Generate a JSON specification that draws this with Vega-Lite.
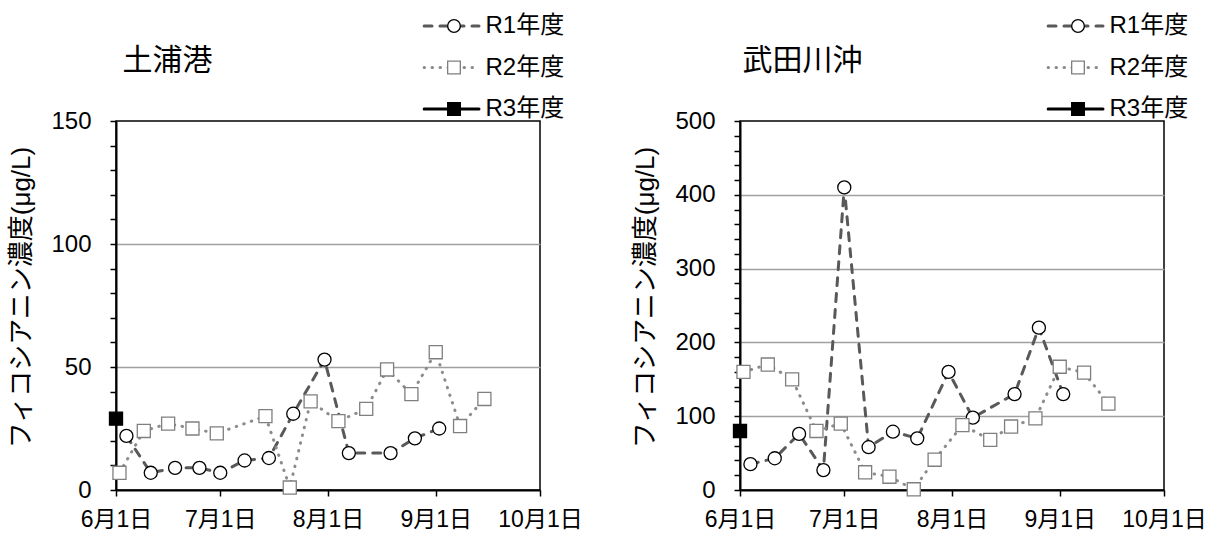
{
  "$schema": "https://vega.github.io/schema/vega-lite/v6.json",
  "background": "white",
  "padding": {"left": 8, "top": 10, "right": 0, "bottom": 0},
  "datasets": {
    "tsuchiura": [
      {"年度": "R1年度", "date": "2021-06-04", "value": 22},
      {"年度": "R1年度", "date": "2021-06-11", "value": 7},
      {"年度": "R1年度", "date": "2021-06-18", "value": 9},
      {"年度": "R1年度", "date": "2021-06-25", "value": 9},
      {"年度": "R1年度", "date": "2021-07-01", "value": 7},
      {"年度": "R1年度", "date": "2021-07-08", "value": 12},
      {"年度": "R1年度", "date": "2021-07-15", "value": 13},
      {"年度": "R1年度", "date": "2021-07-22", "value": 31},
      {"年度": "R1年度", "date": "2021-07-31", "value": 53},
      {"年度": "R1年度", "date": "2021-08-07", "value": 15},
      {"年度": "R1年度", "date": "2021-08-19", "value": 15},
      {"年度": "R1年度", "date": "2021-08-26", "value": 21},
      {"年度": "R1年度", "date": "2021-09-02", "value": 25},
      {"年度": "R2年度", "date": "2021-06-02", "value": 7},
      {"年度": "R2年度", "date": "2021-06-09", "value": 24},
      {"年度": "R2年度", "date": "2021-06-16", "value": 27},
      {"年度": "R2年度", "date": "2021-06-23", "value": 25},
      {"年度": "R2年度", "date": "2021-06-30", "value": 23},
      {"年度": "R2年度", "date": "2021-07-14", "value": 30},
      {"年度": "R2年度", "date": "2021-07-21", "value": 1},
      {"年度": "R2年度", "date": "2021-07-27", "value": 36},
      {"年度": "R2年度", "date": "2021-08-04", "value": 28},
      {"年度": "R2年度", "date": "2021-08-12", "value": 33},
      {"年度": "R2年度", "date": "2021-08-18", "value": 49},
      {"年度": "R2年度", "date": "2021-08-25", "value": 39},
      {"年度": "R2年度", "date": "2021-09-01", "value": 56},
      {"年度": "R2年度", "date": "2021-09-08", "value": 26},
      {"年度": "R2年度", "date": "2021-09-15", "value": 37},
      {"年度": "R3年度", "date": "2021-06-01", "value": 29}
    ],
    "takeda": [
      {"年度": "R1年度", "date": "2021-06-04", "value": 35},
      {"年度": "R1年度", "date": "2021-06-11", "value": 43},
      {"年度": "R1年度", "date": "2021-06-18", "value": 76},
      {"年度": "R1年度", "date": "2021-06-25", "value": 27},
      {"年度": "R1年度", "date": "2021-07-01", "value": 410},
      {"年度": "R1年度", "date": "2021-07-08", "value": 58},
      {"年度": "R1年度", "date": "2021-07-15", "value": 79},
      {"年度": "R1年度", "date": "2021-07-22", "value": 70},
      {"年度": "R1年度", "date": "2021-07-31", "value": 160},
      {"年度": "R1年度", "date": "2021-08-07", "value": 98},
      {"年度": "R1年度", "date": "2021-08-19", "value": 130},
      {"年度": "R1年度", "date": "2021-08-26", "value": 220},
      {"年度": "R1年度", "date": "2021-09-02", "value": 130},
      {"年度": "R2年度", "date": "2021-06-02", "value": 160},
      {"年度": "R2年度", "date": "2021-06-09", "value": 170},
      {"年度": "R2年度", "date": "2021-06-16", "value": 150},
      {"年度": "R2年度", "date": "2021-06-23", "value": 80},
      {"年度": "R2年度", "date": "2021-06-30", "value": 90},
      {"年度": "R2年度", "date": "2021-07-07", "value": 24},
      {"年度": "R2年度", "date": "2021-07-14", "value": 18},
      {"年度": "R2年度", "date": "2021-07-21", "value": 1},
      {"年度": "R2年度", "date": "2021-07-27", "value": 41},
      {"年度": "R2年度", "date": "2021-08-04", "value": 88},
      {"年度": "R2年度", "date": "2021-08-12", "value": 68},
      {"年度": "R2年度", "date": "2021-08-18", "value": 86},
      {"年度": "R2年度", "date": "2021-08-25", "value": 97},
      {"年度": "R2年度", "date": "2021-09-01", "value": 167},
      {"年度": "R2年度", "date": "2021-09-08", "value": 159},
      {"年度": "R2年度", "date": "2021-09-15", "value": 117},
      {"年度": "R3年度", "date": "2021-06-01", "value": 80}
    ]
  },
  "spacing": 200,
  "bounds": "flush",
  "resolve": {
    "scale": {"x": "independent", "y": "independent", "color": "independent", "strokeDash": "independent", "shape": "independent", "fill": "independent", "stroke": "independent"},
    "legend": {"color": "independent", "strokeDash": "independent", "shape": "independent", "fill": "independent", "stroke": "independent"}
  },
  "hconcat": [
    {
      "width": 424,
      "height": 369,
      "data": {"name": "tsuchiura"},
      "resolve": {"axis": {"x": "independent"}},
      "layer": [
        {
          "mark": {"type": "line", "strokeWidth": 3, "strokeCap": "round"},
          "encoding": {
            "x": {"field": "date", "type": "temporal",
              "scale": {"type": "utc", "domain": [{"year": 2021, "month": 6, "date": 1, "utc": true}, {"year": 2021, "month": 10, "date": 1, "utc": true}]},
              "axis": {"values": [{"year": 2021, "month": 6, "date": 1, "utc": true}, {"year": 2021, "month": 7, "date": 1, "utc": true}, {"year": 2021, "month": 8, "date": 1, "utc": true}, {"year": 2021, "month": 9, "date": 1, "utc": true}, {"year": 2021, "month": 10, "date": 1, "utc": true}],
                "tickCount": 100, "labelExpr": "utcFormat(datum.value, '%-m月%-d日')", "labelFlush": false, "labelOverlap": false, "labelFontSize": 23, "labelPadding": 12, "labelColor": "black",
                "tickSize": 6, "tickWidth": 1.5, "tickColor": "black", "domainColor": "black", "domainWidth": 2, "grid": false, "title": null}},
            "y": {"field": "value", "type": "quantitative",
              "scale": {"domain": [0, 150], "nice": false},
              "axis": {"values": [0, 10, 20, 30, 40, 50, 60, 70, 80, 90, 100, 110, 120, 130, 140, 150], "tickCount": 100,
                "labelExpr": "datum.value % 50 === 0 ? datum.label : ''", "labelOverlap": false,
                "grid": true, "gridColor": "#a0a0a0", "gridWidth": 1.5,
                "gridOpacity": {"condition": {"test": "datum.value % 50 === 0 && datum.value > 0 && datum.value < 150", "value": 1}, "value": 0},
                "tickSize": 6, "tickWidth": 1.5, "tickColor": "black", "domainColor": "black", "domainWidth": 2,
                "labelFontSize": 24, "labelPadding": 19, "labelColor": "black",
                "title": "フィコシアニン濃度(μg/L)", "titleFontSize": 26, "titleFontWeight": "normal", "titleColor": "black", "titlePadding": 16, "titleY": 176}},
            "color": {"field": "年度", "type": "nominal",
              "scale": {"domain": ["R1年度", "R2年度", "R3年度"], "range": ["#595959", "#8c8c8c", "#000000"]},
              "legend": {"orient": "none", "legendX": 306.5, "legendY": -110, "title": null, "symbolType": "stroke", "symbolSize": 3025, "symbolStrokeWidth": 3, "clipHeight": 30, "rowPadding": 11.5, "labelFontSize": 24, "labelOffset": 5, "labelColor": "black", "padding": 0, "zindex": 1, "encode": {"symbols": {"update": {"strokeCap": {"value": "round"}}}}}},
            "strokeDash": {"field": "年度", "type": "nominal",
              "scale": {"domain": ["R1年度", "R2年度", "R3年度"], "range": [[8, 8], [0.5, 7.5], [1, 0]]},
              "legend": {"orient": "none", "legendX": 306.5, "legendY": -110, "title": null, "symbolType": "stroke", "symbolSize": 3025, "symbolStrokeWidth": 3, "clipHeight": 30, "rowPadding": 11.5, "labelFontSize": 24, "labelOffset": 5, "labelColor": "black", "padding": 0, "zindex": 1, "encode": {"symbols": {"update": {"strokeCap": {"value": "round"}}}}}}
          }
        },
        {
          "mark": {"type": "point", "filled": true, "size": 170, "strokeWidth": 1.3, "opacity": 1},
          "encoding": {
            "x": {"field": "date", "type": "temporal",
              "axis": {"orient": "top", "labels": false, "ticks": false, "domain": false, "grid": false, "title": "土浦港", "titleFontSize": 30, "titleFontWeight": "normal", "titleColor": "black", "titleX": 6, "titleY": -60.5, "titleAlign": "left", "titleBaseline": "middle", "titleAngle": 0}},
            "y": {"field": "value", "type": "quantitative"},
            "shape": {"field": "年度", "type": "nominal", "scale": {"range": ["circle", "square", "square"]},
              "legend": {"orient": "none", "legendX": 326, "legendY": -110, "title": null, "symbolSize": 160, "symbolStrokeWidth": 1.3, "clipHeight": 30, "rowPadding": 11.5, "labelFontSize": 24, "labelExpr": "''", "padding": 0, "zindex": 2}},
            "fill": {"field": "年度", "type": "nominal", "scale": {"range": ["white", "white", "black"]},
              "legend": {"orient": "none", "legendX": 326, "legendY": -110, "title": null, "symbolSize": 160, "symbolStrokeWidth": 1.3, "clipHeight": 30, "rowPadding": 11.5, "labelFontSize": 24, "labelExpr": "''", "padding": 0, "zindex": 2}},
            "stroke": {"field": "年度", "type": "nominal", "scale": {"range": ["black", "#7f7f7f", "black"]},
              "legend": {"orient": "none", "legendX": 326, "legendY": -110, "title": null, "symbolSize": 160, "symbolStrokeWidth": 1.3, "clipHeight": 30, "rowPadding": 11.5, "labelFontSize": 24, "labelExpr": "''", "padding": 0, "zindex": 2}}
          }
        }
      ]
    },
    {
      "width": 424,
      "height": 369,
      "data": {"name": "takeda"},
      "resolve": {"axis": {"x": "independent"}},
      "layer": [
        {
          "mark": {"type": "line", "strokeWidth": 3, "strokeCap": "round"},
          "encoding": {
            "x": {"field": "date", "type": "temporal",
              "scale": {"type": "utc", "domain": [{"year": 2021, "month": 6, "date": 1, "utc": true}, {"year": 2021, "month": 10, "date": 1, "utc": true}]},
              "axis": {"values": [{"year": 2021, "month": 6, "date": 1, "utc": true}, {"year": 2021, "month": 7, "date": 1, "utc": true}, {"year": 2021, "month": 8, "date": 1, "utc": true}, {"year": 2021, "month": 9, "date": 1, "utc": true}, {"year": 2021, "month": 10, "date": 1, "utc": true}],
                "tickCount": 100, "labelExpr": "utcFormat(datum.value, '%-m月%-d日')", "labelFlush": false, "labelOverlap": false, "labelFontSize": 23, "labelPadding": 12, "labelColor": "black",
                "tickSize": 6, "tickWidth": 1.5, "tickColor": "black", "domainColor": "black", "domainWidth": 2, "grid": false, "title": null}},
            "y": {"field": "value", "type": "quantitative",
              "scale": {"domain": [0, 500], "nice": false},
              "axis": {"values": [0, 20, 40, 60, 80, 100, 120, 140, 160, 180, 200, 220, 240, 260, 280, 300, 320, 340, 360, 380, 400, 420, 440, 460, 480, 500], "tickCount": 100,
                "labelExpr": "datum.value % 100 === 0 ? datum.label : ''", "labelOverlap": false,
                "grid": true, "gridColor": "#a0a0a0", "gridWidth": 1.5,
                "gridOpacity": {"condition": {"test": "datum.value % 100 === 0 && datum.value > 0 && datum.value < 500", "value": 1}, "value": 0},
                "tickSize": 6, "tickWidth": 1.5, "tickColor": "black", "domainColor": "black", "domainWidth": 2,
                "labelFontSize": 24, "labelPadding": 19, "labelColor": "black",
                "title": "フィコシアニン濃度(μg/L)", "titleFontSize": 26, "titleFontWeight": "normal", "titleColor": "black", "titlePadding": 16, "titleY": 176}},
            "color": {"field": "年度", "type": "nominal",
              "scale": {"domain": ["R1年度", "R2年度", "R3年度"], "range": ["#595959", "#8c8c8c", "#000000"]},
              "legend": {"orient": "none", "legendX": 306.5, "legendY": -110, "title": null, "symbolType": "stroke", "symbolSize": 3025, "symbolStrokeWidth": 3, "clipHeight": 30, "rowPadding": 11.5, "labelFontSize": 24, "labelOffset": 5, "labelColor": "black", "padding": 0, "zindex": 1, "encode": {"symbols": {"update": {"strokeCap": {"value": "round"}}}}}},
            "strokeDash": {"field": "年度", "type": "nominal",
              "scale": {"domain": ["R1年度", "R2年度", "R3年度"], "range": [[8, 8], [0.5, 7.5], [1, 0]]},
              "legend": {"orient": "none", "legendX": 306.5, "legendY": -110, "title": null, "symbolType": "stroke", "symbolSize": 3025, "symbolStrokeWidth": 3, "clipHeight": 30, "rowPadding": 11.5, "labelFontSize": 24, "labelOffset": 5, "labelColor": "black", "padding": 0, "zindex": 1, "encode": {"symbols": {"update": {"strokeCap": {"value": "round"}}}}}}
          }
        },
        {
          "mark": {"type": "point", "filled": true, "size": 170, "strokeWidth": 1.3, "opacity": 1},
          "encoding": {
            "x": {"field": "date", "type": "temporal",
              "axis": {"orient": "top", "labels": false, "ticks": false, "domain": false, "grid": false, "title": "武田川沖", "titleFontSize": 30, "titleFontWeight": "normal", "titleColor": "black", "titleX": 2, "titleY": -60.5, "titleAlign": "left", "titleBaseline": "middle", "titleAngle": 0}},
            "y": {"field": "value", "type": "quantitative"},
            "shape": {"field": "年度", "type": "nominal", "scale": {"range": ["circle", "square", "square"]},
              "legend": {"orient": "none", "legendX": 326, "legendY": -110, "title": null, "symbolSize": 160, "symbolStrokeWidth": 1.3, "clipHeight": 30, "rowPadding": 11.5, "labelFontSize": 24, "labelExpr": "''", "padding": 0, "zindex": 2}},
            "fill": {"field": "年度", "type": "nominal", "scale": {"range": ["white", "white", "black"]},
              "legend": {"orient": "none", "legendX": 326, "legendY": -110, "title": null, "symbolSize": 160, "symbolStrokeWidth": 1.3, "clipHeight": 30, "rowPadding": 11.5, "labelFontSize": 24, "labelExpr": "''", "padding": 0, "zindex": 2}},
            "stroke": {"field": "年度", "type": "nominal", "scale": {"range": ["black", "#7f7f7f", "black"]},
              "legend": {"orient": "none", "legendX": 326, "legendY": -110, "title": null, "symbolSize": 160, "symbolStrokeWidth": 1.3, "clipHeight": 30, "rowPadding": 11.5, "labelFontSize": 24, "labelExpr": "''", "padding": 0, "zindex": 2}}
          }
        }
      ]
    }
  ],
  "config": {
    "font": "'Liberation Sans', 'Noto Sans CJK JP', sans-serif",
    "view": {"stroke": "black", "strokeWidth": 1.5},
    "axis": {"labelFont": "'Liberation Sans', 'Noto Sans CJK JP', sans-serif", "titleFont": "'Liberation Sans', 'Noto Sans CJK JP', sans-serif"},
    "legend": {"labelFont": "'Liberation Sans', 'Noto Sans CJK JP', sans-serif"}
  }
}
